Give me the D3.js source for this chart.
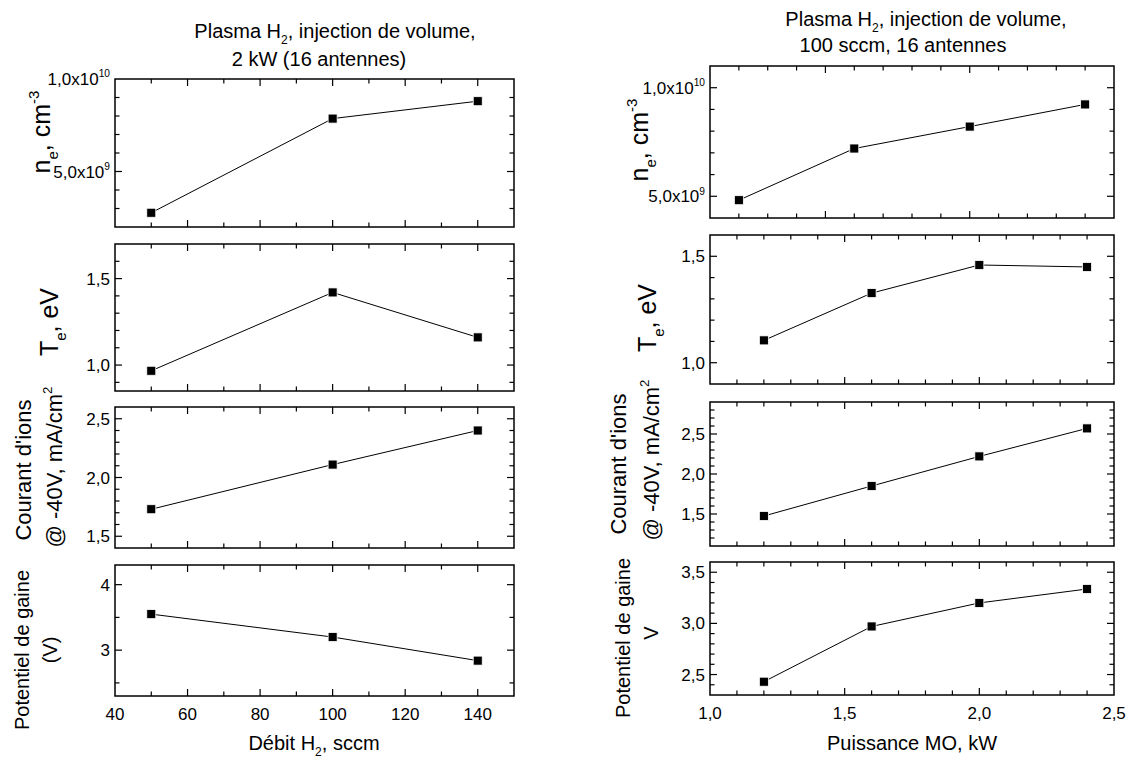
<!DOCTYPE html>
<html><head><meta charset="utf-8">
<script src="https://cdn.jsdelivr.net/npm/d3@7"></script>
<style>
html,body{margin:0;padding:0;background:#fff;}
svg text{font-family:"Liberation Sans",Arial,sans-serif;fill:#000;}
</style></head>
<body>
<svg id="chart" width="1133" height="758"></svg>
<script>
// ---------- DATA ----------
const debitH2 = [50, 100, 140];
const neDebit = [2.77e9, 7.86e9, 8.8e9];
const teDebit = [0.967, 1.42, 1.16];
const courantDebit = [1.73, 2.11, 2.40];
const potentielDebit = [3.55, 3.20, 2.84];

const puissanceMO = [1.2, 1.6, 2.0, 2.4];
const nePuissance = [4.82e9, 7.2e9, 8.21e9, 9.23e9];
const tePuissance = [1.105, 1.327, 1.459, 1.45];
const courantPuissance = [1.475, 1.85, 2.22, 2.57];
const potentielPuissance = [2.43, 2.97, 3.20, 3.336];

const debitTicks = [40, 60, 80, 100, 120, 140];
const puissanceTicks = [1.0, 1.5, 2.0, 2.5];
const neTicks = [5e9, 1e10];
const teTicks = [1.0, 1.5];
const courantTicksLeft = [1.5, 2.0, 2.5];
const courantTicksRight = [1.5, 2.0, 2.5];
const potentielTicksLeft = [3, 4];
const potentielTicksRight = [2.5, 3.0, 3.5];

// ---------- DRAW ----------
const svg = d3.select("#chart");
const MAJ = 7, MIN = 4.5;

function fmtComma(v, dec){ return v.toFixed(dec).replace(".", ","); }

// rich text: parts = [[text, kind]] kind: n / sub / sup
function rich(t, size, parts){
  let cur = 0;
  parts.forEach(([s, k]) => {
    const target = k === "sub" ? size * 0.32 : k === "sup" ? -size * 0.45 : 0;
    const ts = t.append("tspan").text(s);
    if (target !== cur) ts.attr("dy", (target - cur) + "px");
    if (k !== "n") ts.attr("font-size", (size * 0.6) + "px");
    cur = target;
  });
}

function sciLabel(sel, v){
  const e = Math.floor(Math.log10(v) + 1e-9);
  const m = v / Math.pow(10, e);
  sel.text(null);
  rich(sel, 17, [[fmtComma(m,1) + "x10", "n"], [String(e), "sup"]]);
}

function range(a, b, step){
  const out = [];
  const n = Math.round((b - a) / step);
  for (let i = 0; i <= n; i++) out.push(+(a + i * step).toFixed(10));
  return out;
}

function panel(cfg){
  const g = svg.append("g");
  const x = d3.scaleLinear().domain(cfg.xDomain).range([cfg.x0, cfg.x1]);
  const y = d3.scaleLinear().domain(cfg.yDomain).range([cfg.y1, cfg.y0]);
  const xmin = range(cfg.xMinorStart, cfg.xDomain[1], cfg.xMinorStep).filter(v => v > cfg.xDomain[0] + 1e-9 && v < cfg.xDomain[1] - 1e-9);
  const ymin = range(cfg.yMinorStart, cfg.yDomain[1], cfg.yMinorStep).filter(v => v > cfg.yDomain[0] + 1e-9 && v < cfg.yDomain[1] - 1e-9);
  const isMajX = v => cfg.xMajor.some(t => Math.abs(t - v) < 1e-6);
  const isMajY = v => cfg.yMajor.some(t => Math.abs(t - v) < 1e-6);

  const tk = g.append("g").attr("stroke", "#000").attr("stroke-width", 1.2);
  xmin.forEach(v => {
    const L = isMajX(v) ? MAJ : MIN, px = x(v);
    tk.append("line").attr("x1", px).attr("x2", px).attr("y1", cfg.y1).attr("y2", cfg.y1 - L);
    tk.append("line").attr("x1", px).attr("x2", px).attr("y1", cfg.y0).attr("y2", cfg.y0 + L);
  });
  ymin.forEach(v => {
    const L = isMajY(v) ? MAJ : MIN, py = y(v);
    tk.append("line").attr("x1", cfg.x0).attr("x2", cfg.x0 + L).attr("y1", py).attr("y2", py);
    tk.append("line").attr("x1", cfg.x1).attr("x2", cfg.x1 - L).attr("y1", py).attr("y2", py);
  });

  g.append("rect").attr("x", cfg.x0).attr("y", cfg.y0)
    .attr("width", cfg.x1 - cfg.x0).attr("height", cfg.y1 - cfg.y0)
    .attr("fill", "none").attr("stroke", "#000").attr("stroke-width", 1.5);

  cfg.yMajor.forEach(v => {
    const t = g.append("text").attr("x", cfg.x0 - 5).attr("y", y(v) + 6)
      .attr("text-anchor", "end").attr("font-size", "17px");
    if (cfg.sci) sciLabel(t, v); else t.text(fmtComma(v, cfg.yDec));
  });

  if (cfg.xLabels) {
    cfg.xMajor.forEach(v => {
      g.append("text").attr("x", x(v)).attr("y", cfg.y1 + 24)
        .attr("text-anchor", "middle").attr("font-size", "17px")
        .text(cfg.xDec ? fmtComma(v, cfg.xDec) : v);
    });
  }

  const pts = cfg.xs.map((v, i) => [v, cfg.ys[i]]);
  g.append("path").datum(pts)
    .attr("d", d3.line().x(d => x(d[0])).y(d => y(d[1])))
    .attr("fill", "none").attr("stroke", "#000").attr("stroke-width", 1);
  g.selectAll("rect.m").data(pts).enter().append("rect").attr("class", "m")
    .attr("x", d => x(d[0]) - 4.5).attr("y", d => y(d[1]) - 4.5)
    .attr("width", 9).attr("height", 9)
    .attr("fill", "#000").attr("stroke", "#fff").attr("stroke-width", 0.8);
  return g;
}

// cx = position of text baseline (x), cy = center along text
function rotLabel(bx, cy, size, parts){
  const t = svg.append("text").attr("transform", `translate(${bx},${cy}) rotate(-90)`)
    .attr("text-anchor", "middle").attr("font-size", size + "px");
  rich(t, size, parts);
}
function hLabel(cx, by, size, parts){
  const t = svg.append("text").attr("x", cx).attr("y", by)
    .attr("text-anchor", "middle").attr("font-size", size + "px");
  rich(t, size, parts);
}

// ---- Left column ----
const LX0 = 115, LX1 = 514;
const leftBase = { xDomain: [40, 150], x0: LX0, x1: LX1, xMajor: debitTicks, xMinorStart: 40, xMinorStep: 10, xs: debitH2 };
panel(Object.assign({}, leftBase, { y0: 79, y1: 227, yDomain: [2e9, 1e10], yMajor: neTicks, yMinorStart: 2e9, yMinorStep: 1e9, ys: neDebit, sci: true }));
panel(Object.assign({}, leftBase, { y0: 244, y1: 391, yDomain: [0.85, 1.7], yMajor: teTicks, yMinorStart: 0.9, yMinorStep: 0.1, ys: teDebit, yDec: 1 }));
panel(Object.assign({}, leftBase, { y0: 407, y1: 548, yDomain: [1.4, 2.6], yMajor: courantTicksLeft, yMinorStart: 1.5, yMinorStep: 0.1, ys: courantDebit, yDec: 1 }));
panel(Object.assign({}, leftBase, { y0: 565, y1: 696, yDomain: [2.3, 4.3], yMajor: potentielTicksLeft, yMinorStart: 2.5, yMinorStep: 0.5, ys: potentielDebit, yDec: 0, xLabels: true }));

// ---- Right column ----
const RX0 = 710, RX1 = 1114;
const rightBase = { xDomain: [1.0, 2.5], x0: RX0, x1: RX1, xMajor: puissanceTicks, xMinorStart: 1.0, xMinorStep: 0.1, xs: puissanceMO, xDec: 1 };
panel(Object.assign({}, rightBase, { xDomain: [1.1, 2.5], xMinorStart: 1.1, y0: 66, y1: 218, yDomain: [4e9, 1.1e10], yMajor: neTicks, yMinorStart: 4e9, yMinorStep: 1e9, ys: nePuissance, sci: true }));
panel(Object.assign({}, rightBase, { y0: 235, y1: 384, yDomain: [0.9, 1.6], yMajor: teTicks, yMinorStart: 0.9, yMinorStep: 0.1, ys: tePuissance, yDec: 1 }));
panel(Object.assign({}, rightBase, { y0: 402, y1: 546, yDomain: [1.1, 2.9], yMajor: courantTicksRight, yMinorStart: 1.1, yMinorStep: 0.1, ys: courantPuissance, yDec: 1 }));
panel(Object.assign({}, rightBase, { y0: 562, y1: 695, yDomain: [2.3, 3.6], yMajor: potentielTicksRight, yMinorStart: 2.3, yMinorStep: 0.1, ys: potentielPuissance, yDec: 1, xLabels: true }));

// ---- Titles ----
hLabel(335, 38, 20, [["Plasma H", "n"], ["2", "sub"], [", injection de volume,", "n"]]);
hLabel(319, 66, 20, [["2 kW (16 antennes)", "n"]]);
hLabel(926, 26, 20, [["Plasma H", "n"], ["2", "sub"], [", injection de volume,", "n"]]);
hLabel(903, 52, 20, [["100 sccm, 16 antennes", "n"]]);

// ---- Axis titles ----
hLabel(314, 750, 20, [["Débit H", "n"], ["2", "sub"], [", sccm", "n"]]);
hLabel(912, 750, 20, [["Puissance MO, kW", "n"]]);

// left y titles (x = baseline)
rotLabel(50, 132, 25, [["n", "n"], ["e", "sub"], [", cm", "n"], ["-3", "sup"]]);
rotLabel(58, 322, 25, [["T", "n"], ["e", "sub"], [", eV", "n"]]);
rotLabel(31, 470, 22, [["Courant d'ions", "n"]]);
rotLabel(62, 467, 22, [["@ -40V, mA/cm", "n"], ["2", "sup"]]);
rotLabel(29, 650, 20, [["Potentiel de gaine", "n"]]);
rotLabel(57, 650, 20, [["(V)", "n"]]);

// right y titles
rotLabel(648, 140, 25, [["n", "n"], ["e", "sub"], [", cm", "n"], ["-3", "sup"]]);
rotLabel(656, 318, 25, [["T", "n"], ["e", "sub"], [", eV", "n"]]);
rotLabel(626, 464, 22, [["Courant d'ions", "n"]]);
rotLabel(659, 460, 22, [["@ -40V, mA/cm", "n"], ["2", "sup"]]);
rotLabel(630, 638, 20, [["Potentiel de gaine", "n"]]);
rotLabel(658, 633, 20, [["V", "n"]]);
</script>
</body></html>
